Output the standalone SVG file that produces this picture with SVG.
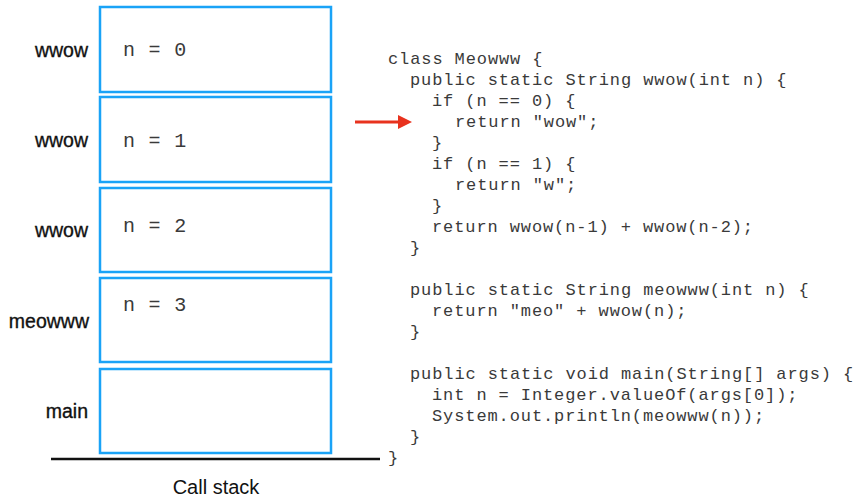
<svg xmlns="http://www.w3.org/2000/svg" width="854" height="500" viewBox="0 0 854 500">
<style>
.frame{fill:#fff;stroke:#1aa3f7;stroke-width:2.5}
.lbl{font-family:"Liberation Sans",Arial,sans-serif;font-size:19.5px;fill:#111;stroke:#111;stroke-width:0.35px;text-anchor:end}
.val{font-family:"Liberation Mono","Courier New",monospace;font-size:20px;fill:#3a3a3a;letter-spacing:0.8px}
.code{font-family:"Liberation Mono","Courier New",monospace;font-size:17px;fill:#3a3a3a;letter-spacing:0.9px}
</style>
<defs>
<marker id="ah" viewBox="0 0 14 14" refX="0" refY="7" markerWidth="14" markerHeight="14" markerUnits="userSpaceOnUse" orient="auto">
<path d="M0,0 L14,7 L0,14 Z" fill="#e8321e"/>
</marker>
</defs>
<rect width="854" height="500" fill="#fff"/>
<g id="frame-wwow-0">
<rect class="frame" x="100" y="7" width="231" height="85"/>
<text class="lbl" x="88" y="57">wwow</text>
<text class="val" x="123" y="56">n = 0</text>
</g>
<g id="frame-wwow-1">
<rect class="frame" x="100" y="97" width="231" height="85"/>
<text class="lbl" x="88" y="147">wwow</text>
<text class="val" x="123" y="147">n = 1</text>
</g>
<g id="frame-wwow-2">
<rect class="frame" x="100" y="188" width="231" height="84"/>
<text class="lbl" x="88" y="237">wwow</text>
<text class="val" x="123" y="232">n = 2</text>
</g>
<g id="frame-meowww">
<rect class="frame" x="100" y="278" width="231" height="84"/>
<text class="lbl" x="89" y="328">meowww</text>
<text class="val" x="123" y="311">n = 3</text>
</g>
<g id="frame-main">
<rect class="frame" x="100" y="369" width="231" height="84"/>
<text class="lbl" x="88" y="418">main</text>
</g>
<g id="stack-base">
<line x1="51" y1="459" x2="380" y2="459" stroke="#111" stroke-width="2.5"/>
<text x="216" y="494" font-family="'Liberation Sans',Arial,sans-serif" font-size="20" fill="#111" text-anchor="middle">Call stack</text>
</g>
<g id="code">
<text class="code" x="388" y="64">class Meowww {</text>
<text class="code" x="410" y="85">public static String wwow(int n) {</text>
<text class="code" x="432" y="106">if (n == 0) {</text>
<text class="code" x="455" y="127">return "wow";</text>
<text class="code" x="432" y="148">}</text>
<text class="code" x="432" y="169">if (n == 1) {</text>
<text class="code" x="455" y="190">return "w";</text>
<text class="code" x="432" y="211">}</text>
<text class="code" x="432" y="232">return wwow(n-1) + wwow(n-2);</text>
<text class="code" x="410" y="253">}</text>
<text class="code" x="410" y="295">public static String meowww(int n) {</text>
<text class="code" x="432" y="316">return "meo" + wwow(n);</text>
<text class="code" x="410" y="337">}</text>
<text class="code" x="410" y="379">public static void main(String[] args) {</text>
<text class="code" x="432" y="400">int n = Integer.valueOf(args[0]);</text>
<text class="code" x="432" y="421">System.out.println(meowww(n));</text>
<text class="code" x="410" y="442">}</text>
<text class="code" x="388" y="463">}</text>
</g>
<g id="connectors">
<line x1="355" y1="122" x2="398" y2="122" stroke="#e8321e" stroke-width="3" marker-end="url(#ah)"/>
</g>
</svg>
